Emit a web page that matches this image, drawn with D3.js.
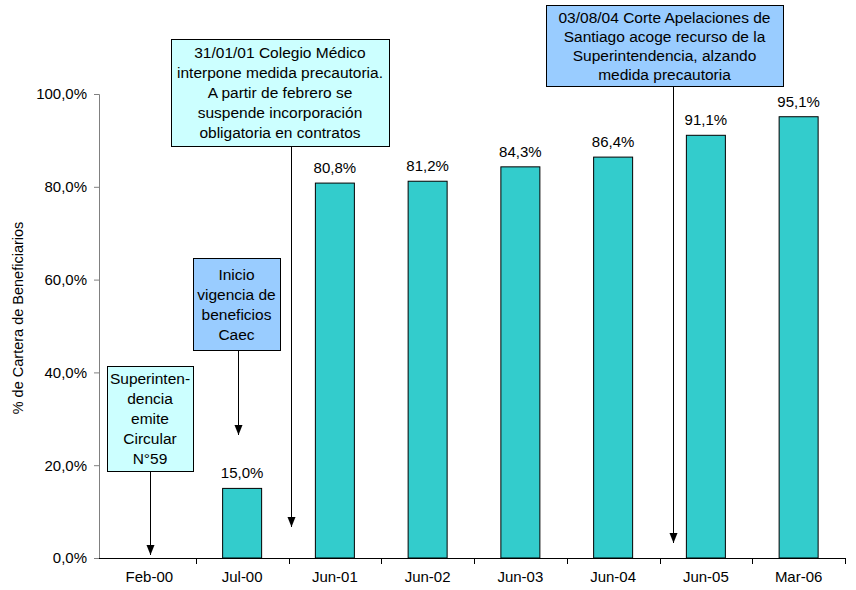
<!DOCTYPE html>
<html><head><meta charset="utf-8">
<script src="https://cdn.jsdelivr.net/npm/d3@7"></script>
<style>body{margin:0;background:#fff}svg{display:block;font-family:Arial,"Liberation Sans",sans-serif}</style>
</head><body>
<script>
const categories = ["Feb-00","Jul-00","Jun-01","Jun-02","Jun-03","Jun-04","Jun-05","Mar-06"];
const values = [null, 15.0, 80.8, 81.2, 84.3, 86.4, 91.1, 95.1];
const yTicks = [0, 20, 40, 60, 80, 100];
const yTitle = "% de Cartera de Beneficiarios";
const noteTexts = [
  ["Superinten-","dencia","emite","Circular","N°59"],
  ["Inicio","vigencia de","beneficios","Caec"],
  ["31/01/01 Colegio Médico","interpone medida precautoria.","A partir de febrero se","suspende incorporación","obligatoria en contratos"],
  ["03/08/04 Corte Apelaciones de","Santiago acoge recurso de la","Superintendencia, alzando","medida precautoria"]
];
// layout (pixels) for annotation boxes
const noteLayout = [
  {x0:107,x1:193,y0:366,y1:471,ax:150,ay:555,fill:"#CCFFFF",lh:20},
  {x0:193,x1:280,y0:258,y1:350,ax:238,ay:435,fill:"#99CCFF",lh:20},
  {x0:171,x1:389,y0:39,y1:146,ax:291,ay:527,fill:"#CCFFFF",lh:20},
  {x0:546,x1:783,y0:5,y1:86,ax:673,ay:543,fill:"#99CCFF",lh:19}
];

const W=856,H=590;
const FONT="Arial,'Liberation Sans',sans-serif";
const svg=d3.select("body").append("svg").attr("width",W).attr("height",H);
const xb=d3.scaleBand().domain(categories).range([103,845]);
const y=d3.scaleLinear().domain([0,100]).range([558,94]);
const AX=99;

svg.append("defs").append("marker").attr("id","ah").attr("viewBox","0 0 10 10")
  .attr("refX",10).attr("refY",5).attr("markerWidth",10).attr("markerHeight",10)
  .attr("markerUnits","userSpaceOnUse").attr("orient","auto")
  .append("path").attr("d","M0,1 L10,5 L0,9 Z").attr("fill","#000");

// bars
const data=categories.map((c,i)=>({c,v:values[i]})).filter(d=>d.v!=null);
svg.selectAll("rect.bar").data(data).enter().append("rect").attr("class","bar")
  .attr("x",d=>xb(d.c)+xb.bandwidth()/2-19.5).attr("width",39)
  .attr("y",d=>y(d.v)).attr("height",d=>y(0)-y(d.v))
  .attr("fill","#33CCCC").attr("stroke","#000").attr("stroke-width",1);
svg.selectAll("text.lab").data(data).enter().append("text")
  .attr("x",d=>xb(d.c)+xb.bandwidth()/2).attr("y",d=>y(d.v)-10)
  .attr("text-anchor","middle").attr("font-size",15).attr("fill","#000")
  .text(d=>d.v.toFixed(1).replace(".",",")+"%");

// y axis
const ya=svg.append("g").attr("transform",`translate(${AX},0)`)
  .call(d3.axisLeft(y).tickValues(yTicks).tickSize(5).tickPadding(7).tickFormat(d=>d.toFixed(1).replace(".",",")+"%"));
ya.select(".domain").attr("stroke","#808080");
ya.selectAll(".tick line").attr("stroke","#808080");
ya.selectAll("text").attr("font-size",15).attr("font-family",FONT).attr("fill","#000");

// x axis
const xa=svg.append("g").attr("transform","translate(0,558)")
  .call(d3.axisBottom(xb).tickSize(0).tickPadding(13).tickSizeOuter(0));
xa.select(".domain").remove();
svg.append("line").attr("x1",AX).attr("x2",845).attr("y1",558.5).attr("y2",558.5).attr("stroke","#000");
xa.selectAll("text").attr("font-size",15).attr("font-family",FONT).attr("fill","#000");
svg.append("g").selectAll("line").data(categories).enter().append("line")
  .attr("x1",d=>Math.round(xb(d)+xb.bandwidth())+0.5).attr("x2",d=>Math.round(xb(d)+xb.bandwidth())+0.5)
  .attr("y1",558).attr("y2",564).attr("stroke","#000");

svg.append("text").attr("transform","translate(23,318) rotate(-90)").attr("text-anchor","middle")
  .attr("font-size",14.5).attr("fill","#000").text(yTitle);

// annotations
noteTexts.forEach((lines,i)=>{
  const L=noteLayout[i];
  const g=svg.append("g");
  g.append("line").attr("x1",L.ax+0.5).attr("x2",L.ax+0.5).attr("y1",L.y1).attr("y2",L.ay)
    .attr("stroke","#000").attr("stroke-width",1).attr("marker-end","url(#ah)");
  g.append("rect").attr("x",L.x0+0.5).attr("y",L.y0+0.5).attr("width",L.x1-L.x0).attr("height",L.y1-L.y0)
    .attr("fill",L.fill).attr("stroke","#000").attr("stroke-width",1);
  const cx=(L.x0+L.x1)/2;
  const total=lines.length*L.lh;
  const top=(L.y0+L.y1)/2-total/2;
  lines.forEach((t,j)=>{
    g.append("text").attr("x",cx).attr("y",top+L.lh*j+L.lh/2+5.5).attr("text-anchor","middle")
      .attr("font-size",15.5).attr("fill","#000").text(t);
  });
});
</script>
</body></html>
